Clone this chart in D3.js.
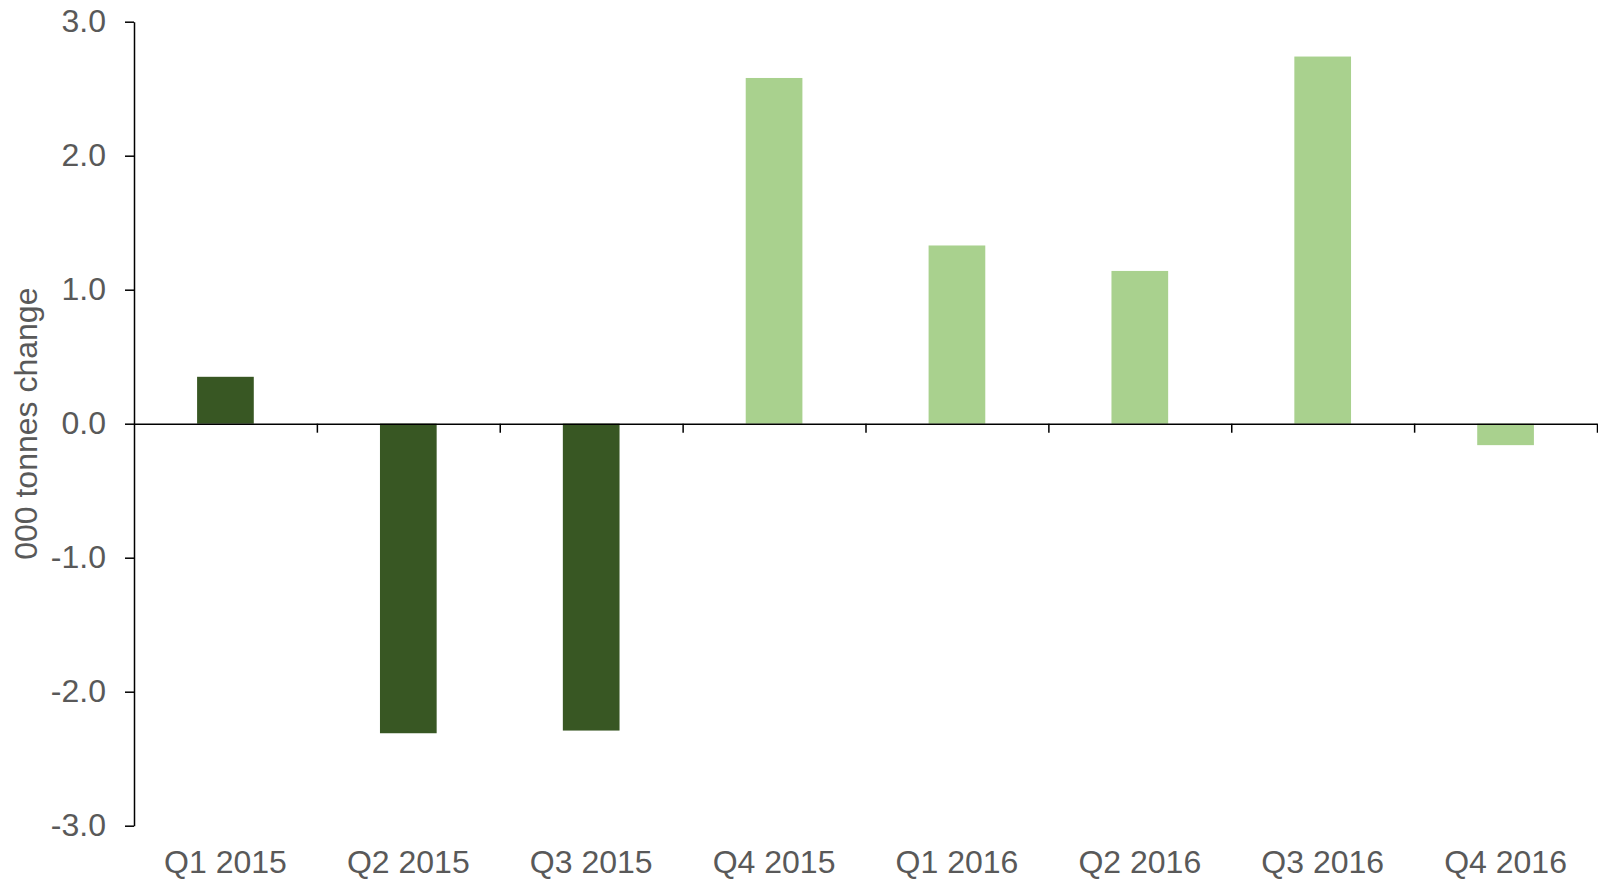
<!DOCTYPE html>
<html>
<head>
<meta charset="utf-8">
<script src="https://cdn.jsdelivr.net/npm/d3@7"></script>
<style>
  html, body { margin: 0; padding: 0; background: #fff; }
  svg { display: block; font-family: "Liberation Sans", Arial, sans-serif; }
  .axis text { fill: #595959; font-size: 32px; }
  .axis path, .axis line { stroke: #000; stroke-width: 1.5px; }
</style>
</head>
<body>
<svg id="chart"></svg>
<script>
// quarters shown on the x axis
var quarters = ["Q1 2015", "Q2 2015", "Q3 2015", "Q4 2015",
                "Q1 2016", "Q2 2016", "Q3 2016", "Q4 2016"];
// change in tonnes (thousands)
var changes = [0.35, -2.31, -2.29, 2.58, 1.33, 1.14, 2.74, -0.16];
// first three quarters use the dark shade
var shades = ["dark", "dark", "dark", "light", "light", "light", "light", "light"];
var yTicks = [-3, -2, -1, 0, 1, 2, 3];

(function () {
    "use strict";

    var width = 1598,
        height = 880,
        margin = {top: 21.7, right: 1, bottom: 54.3, left: 134};

    var colours = {dark: "#385723", light: "#a9d18e"};

    var svg = d3.select("#chart")
        .attr("width", width)
        .attr("height", height);

    var y = d3.scaleLinear()
        .domain([-3, 3])
        .range([height - margin.bottom, margin.top]);

    var x = d3.scaleBand()
        .domain(quarters)
        .range([margin.left, width - margin.right])
        .paddingInner(0.69)
        .paddingOuter(0.345);

    // category boundaries, for the ticks on the zero line
    var edge = d3.scaleLinear()
        .domain([0, quarters.length])
        .range([margin.left, width - margin.right]);

    var data = quarters.map(function (q, i) {
        return {q: q, v: changes[i], shade: shades[i]};
    });

    svg.append("g")
        .selectAll("rect")
        .data(data)
        .enter().append("rect")
        .attr("x", function (d) { return x(d.q); })
        .attr("width", x.bandwidth())
        .attr("y", function (d) { return y(Math.max(0, d.v)); })
        .attr("height", function (d) { return Math.abs(y(d.v) - y(0)); })
        .attr("fill", function (d) { return colours[d.shade]; });

    // y axis
    svg.append("g")
        .attr("class", "axis")
        .attr("transform", "translate(" + margin.left + ",0)")
        .call(d3.axisLeft(y)
            .tickValues(yTicks)
            .tickFormat(function (d) { return d.toFixed(1); })
            .tickSize(9)
            .tickSizeOuter(0)
            .tickPadding(19));

    // zero line with boundary ticks
    svg.append("g")
        .attr("class", "axis")
        .attr("transform", "translate(0," + y(0) + ")")
        .call(d3.axisBottom(edge)
            .tickValues(d3.range(1, quarters.length + 1))
            .tickFormat("")
            .tickSize(9)
            .tickSizeOuter(0));

    // category labels along the bottom
    svg.append("g")
        .attr("class", "axis")
        .selectAll("text")
        .data(quarters)
        .enter().append("text")
        .attr("x", function (d) { return x(d) + x.bandwidth() / 2; })
        .attr("y", 872.5)
        .attr("text-anchor", "middle")
        .text(function (d) { return d; });

    svg.append("g")
        .attr("class", "axis")
        .append("text")
        .attr("transform", "translate(37," + y(0) + ") rotate(-90)")
        .attr("text-anchor", "middle")
        .text("000 tonnes change");
}());
</script>
</body>
</html>
